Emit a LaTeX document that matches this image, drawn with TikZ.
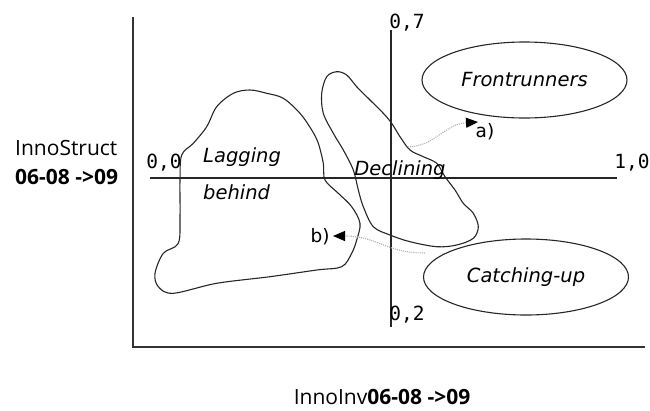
\documentclass[tikz,border=0pt]{standalone}
\usepackage{fontspec}
\setmainfont{DejaVu Sans}
\newfontfamily\labelfont{Open Sans}
\newfontfamily\numfont{DejaVu Sans Mono}
\usetikzlibrary{shapes.geometric,arrows.meta}

\tikzset{
  axis/.style={line width=1.2pt, draw=black!80},
  quadline/.style={line width=1.1pt, draw=black!85},
  blob/.style={line width=1.1pt, draw=black!85, smooth cycle, tension=0.55},
  region/.style={font=\fontsize{19.5}{22}\selectfont\itshape, inner sep=0pt},
  group/.style={ellipse, draw=black!85, line width=1.1pt, minimum width=205pt,
    minimum height=76pt, inner sep=0pt, font=\fontsize{19.5}{22}\selectfont\itshape},
  tick/.style={font=\numfont\fontsize{19.5}{22}\selectfont, inner sep=0pt},
  tag/.style={font=\fontsize{18.5}{20}\selectfont, inner sep=0pt},
  axislabel/.style={font=\labelfont\fontsize{21}{24}\selectfont, inner sep=0pt},
  move/.style={draw=gray!60, line width=1.1pt, densely dotted,
    -{Triangle[length=12pt,width=10pt,color=black]}}
}

\begin{document}
\begin{tikzpicture}[x=1pt,y=-1pt]
\useasboundingbox (0,0) rectangle (650,410);

% outer axes
\coordinate (top) at (133,17);
\coordinate (origin) at (133,347);
\coordinate (right) at (645,347);
\draw[axis] (top) -- (origin) -- (right);

% quadrant lines
\coordinate (hL) at (150,178);
\coordinate (hR) at (617,178);
\coordinate (vT) at (391,30);
\coordinate (vB) at (391,327);
\draw[quadline] (hL) -- (hR);
\draw[quadline] (vT) -- (vB);

% tick values
\node[tick] (t00) at (164,163) {0,0};
\node[tick] (t10) at (632,163) {1,0};
\node[tick] (t07) at (407,23) {0,7};
\node[tick] (t02) at (407,315) {0,2};

% "Lagging behind" cluster
\draw[blob] plot coordinates {
  (181.7,155) (193.3,143.3) (206.7,126.7) (216.7,106.7) (233.3,93.3)
  (250,90) (266.7,93.3) (283.3,98.3) (300,113.3) (311.7,130)
  (318.3,143.3) (323.3,163.3) (325,180) (338.3,193.3) (351.7,206.7)
  (360,223.3) (356.7,240) (351.7,253.3) (341.7,266.7) (316.7,270)
  (270,276.7) (216.7,283.3) (173.3,293.3) (158.3,286.7) (155,273.3)
  (163.3,253.3) (178.3,243.3) (180,216.7) (180,180)};

% "Declining" cluster
\draw[blob] plot coordinates {
  (326.7,76.7) (336.7,71.7) (346.7,75) (356.7,86.7) (370,100)
  (383.3,113.3) (391.7,123.3) (400,136.7) (410,150) (423.3,156.7)
  (436.7,163.3) (445,176.7) (455,190) (463.3,203.3) (473.3,213.3)
  (478.3,226.7) (473.3,238.3) (456.7,245) (436.7,246.7) (410,241.7)
  (390,235) (373.3,226.7) (363.3,206.7) (358.3,190) (353.3,170)
  (343.3,150) (333.3,133.3) (323.3,113.3) (321.7,93.3)};

% region names
\node[region, anchor=west] (lag1) at (203,157) {Lagging};
\node[region, anchor=west] (lag2) at (203,192) {behind};
\node[region] (decl) at (400,170) {Declining};

% target groups
\node[group] (front) at (524.5,80) {Frontrunners};
\node[group] (catch) at (526,277) {Catching-up};

% movements
\node[tag] (ta) at (485,132) {a)};
\node[tag] (tb) at (320,237) {b)};
\coordinate (aStart) at (408,147);
\coordinate (aEnd) at (478,122);
\coordinate (bStart) at (425,253);
\coordinate (bEnd) at (333,236);
\draw[move] (aStart) .. controls (435,146) and (445,124) .. (aEnd);
\draw[move] (bStart) .. controls (385,253) and (378,236) .. (bEnd);

% axis titles
\node[axislabel, anchor=west] (ylab1) at (15,148) {InnoStruct};
\node[axislabel, anchor=west] (ylab2) at (15,177) {\bfseries 06-08 ->09};
\node[axislabel, anchor=base] (xlab) at (382,404) {InnoInv\textbf{06-08 ->09}};
\end{tikzpicture}
\end{document}
